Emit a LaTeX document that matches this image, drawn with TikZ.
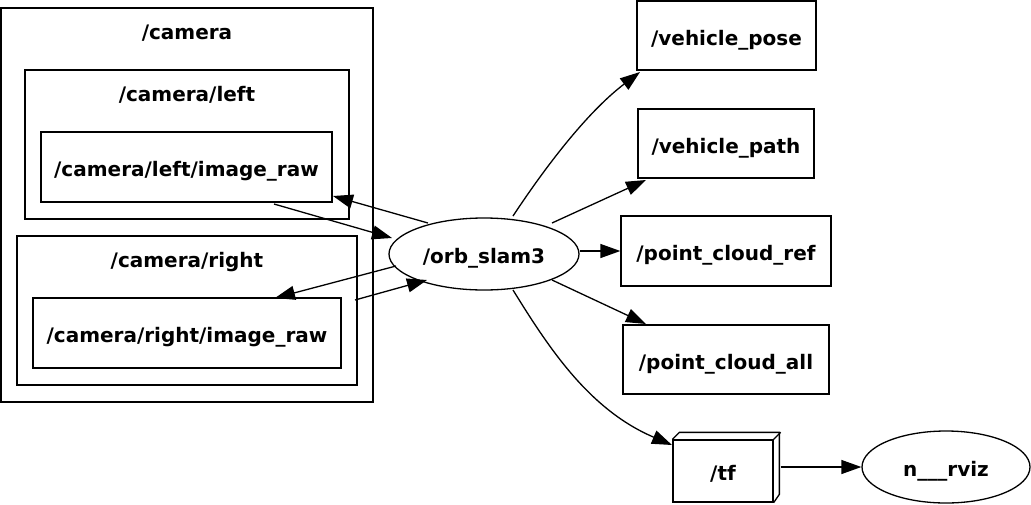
\documentclass[tikz,border=0pt]{standalone}
\usepackage{fontspec}
\setmainfont{DejaVu Sans}
\usetikzlibrary{arrows.meta,shapes.geometric}
\begin{document}
\begin{tikzpicture}[x=1pt,y=-1pt,
  txt/.style={font=\bfseries\fontsize{20}{24}\selectfont},
  lbl/.style={txt,anchor=base,inner sep=0pt},
  clus/.style={draw,line width=1.3pt},
  topic/.style={draw,line width=1.3pt,rectangle,inner sep=0pt,txt,text height=19pt,text depth=0pt},
  nd/.style={draw,line width=1.3pt,ellipse,inner sep=0pt,txt,text height=19pt,text depth=0pt},
  edge/.style={line width=1.3pt,-{Triangle[length=20pt,width=14pt]}}]
\useasboundingbox (0,0) rectangle (1031,504);
% clusters
\draw[clus] (1,8) rectangle (373,402);
\node[lbl] (lcam) at (187,39) {/camera};
\draw[clus] (25,70) rectangle (349,219);
\node[lbl] (lcaml) at (187,101.5) {/camera/left};
\draw[clus] (17,236) rectangle (357,385);
\node[lbl] (lcamr) at (187,267.5) {/camera/right};
% topics
\node[topic,minimum width=291pt,minimum height=70pt] (limg) at (186.5,167) {/camera/left/image\_raw};
\node[topic,minimum width=308pt,minimum height=70pt] (rimg) at (187,333) {/camera/right/image\_raw};
\node[nd,minimum width=190pt,minimum height=72pt] (orb) at (484,254) {/orb\_slam3};
\node[topic,minimum width=179pt,minimum height=69pt] (vpose) at (726.5,35.5) {/vehicle\_pose};
\node[topic,minimum width=176pt,minimum height=69pt] (vpath) at (726,143.5) {/vehicle\_path};
\node[topic,minimum width=210pt,minimum height=70pt] (pcref) at (726,251) {/point\_cloud\_ref};
\node[topic,minimum width=206pt,minimum height=69pt] (pcall) at (726,359.5) {/point\_cloud\_all};
\node[topic,minimum width=100pt,minimum height=62pt] (tf) at (723,471) {/tf};
\draw[line width=1.3pt] (tf.north west) -- ++(7,-7) -- ++(100,0) -- ++(0,62) -- (tf.south east);
\draw[line width=1.3pt] (tf.north east) -- ++(7,-7);
\node[nd,minimum width=168pt,minimum height=72pt] (rviz) at (946,467) {n\_\_\_rviz};
% edges
\draw[edge] (274,204) -- (392,238);
\draw[edge] (orb) ++(-56,-31) coordinate (o1) (o1) -- (333,196);
\draw[edge] (orb) ++(-88,12) coordinate (o2) (o2) -- (275,298);
\draw[edge] (355,300) -- (427,280);
\draw[edge] (513,216) .. controls (550,160) and (590,110) .. (640,72);
\draw[edge] (552,223) -- (646,180);
\draw[edge] (orb.east |- pcref.west) -- (pcref.west);
\draw[edge] (552,280) -- (646,324);
\draw[edge] (513,290) .. controls (550,350) and (590,410) .. (672,445);
\draw[edge] (tf.east) ++(7,-4) coordinate (t1) (t1) -- (rviz.west);
\end{tikzpicture}
\end{document}
